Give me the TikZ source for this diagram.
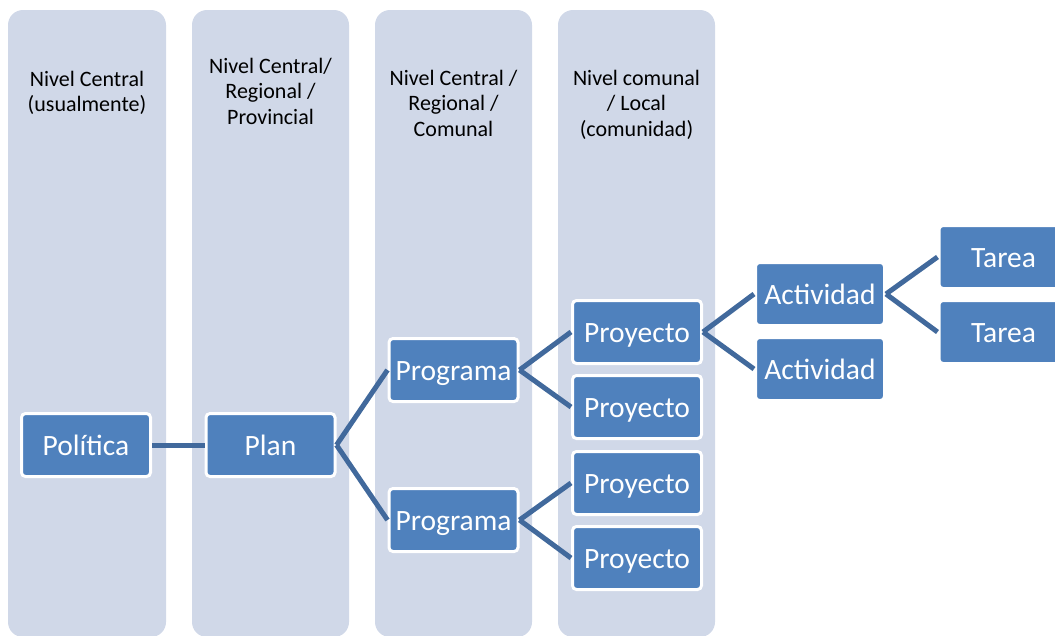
\documentclass[tikz,border=0pt]{standalone}
\usepackage{fontspec}
\setmainfont{Carlito}
\definecolor{levelfill}{HTML}{D0D8E8}
\definecolor{boxfill}{HTML}{4F81BD}
\definecolor{linkcol}{HTML}{41699C}

\begin{document}
\begin{tikzpicture}[x=1pt,y=-1pt,
  level/.style={fill=levelfill,rounded corners=15pt},
  head/.style={align=center,inner sep=0pt,anchor=north,font=\fontsize{22}{25.5}\selectfont},
  box/.style={fill=boxfill,draw=white,line width=3pt,rounded corners=4pt,text=white,
    minimum width=129pt,minimum height=63pt,inner sep=0pt,text height=25pt,text depth=5pt,
    font=\fontsize{29.5}{34}\selectfont},
  link/.style={draw=linkcol,line width=5pt}]
\useasboundingbox (0,0) rectangle (1055,635);

% Levels
\fill[level] (8,10) rectangle (166,637);
\fill[level] (192,10) rectangle (349,637);
\fill[level] (375,10) rectangle (532,637);
\fill[level] (558,10) rectangle (715,637);

\node[head] (h1) at (87,71) {Nivel Central\\(usualmente)};
\node[head] (h2) at (270.5,58) {Nivel Central/\\Regional /\\Provincial};
\node[head] (h3) at (453.5,70) {Nivel Central /\\Regional /\\Comunal};
\node[head] (h4) at (636.5,70) {Nivel comunal\\/ Local\\(comunidad)};

% Boxes
\node[box] (pol) at (86,445) {Política};
\node[box] (plan) at (270.5,445) {Plan};
\node[box] (prog1) at (453.5,370) {Programa};
\node[box] (prog2) at (453.5,520) {Programa};
\node[box] (proy1) at (637,332) {Proyecto};
\node[box] (proy2) at (637,407) {Proyecto};
\node[box] (proy3) at (637,483) {Proyecto};
\node[box] (proy4) at (637,558) {Proyecto};
\node[box] (act1) at (820,294) {Actividad};
\node[box] (act2) at (820,369) {Actividad};
\node[box] (tar1) at (1003.5,257) {Tarea};
\node[box] (tar2) at (1003.5,332) {Tarea};

% Links
\draw[link] (pol.east) -- (plan.west);
\draw[link] (plan.east) -- (prog1.west);
\draw[link] (plan.east) -- (prog2.west);
\draw[link] (prog1.east) -- (proy1.west);
\draw[link] (prog1.east) -- (proy2.west);
\draw[link] (prog2.east) -- (proy3.west);
\draw[link] (prog2.east) -- (proy4.west);
\draw[link] (proy1.east) -- (act1.west);
\draw[link] (proy1.east) -- (act2.west);
\draw[link] (act1.east) -- (tar1.west);
\draw[link] (act1.east) -- (tar2.west);
\end{tikzpicture}
\end{document}
